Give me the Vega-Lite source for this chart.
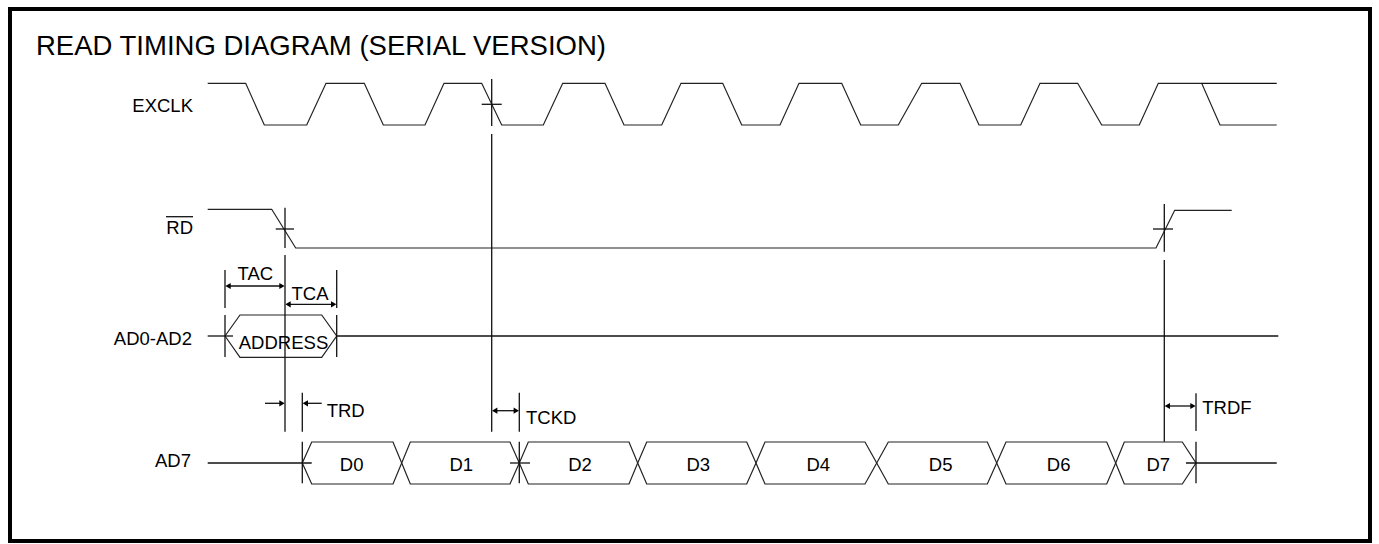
{
  "$schema": "https://vega.github.io/schema/vega-lite/v6.json",
  "width": 1379,
  "height": 544,
  "autosize": {"type": "none"},
  "padding": 0,
  "background": "white",
  "config": {"view": {"stroke": null}},
  "datasets": {
    "frame": [{"x": 10, "x2": 1370, "y": 9, "y2": 541}],
    "waves": [
      {"id": "clk", "o": 0, "x": 207.7, "y": 83.3},
      {"id": "clk", "o": 1, "x": 245.7, "y": 83.3},
      {"id": "clk", "o": 2, "x": 264.3, "y": 125},
      {"id": "clk", "o": 3, "x": 306.7, "y": 125},
      {"id": "clk", "o": 4, "x": 326, "y": 83.3},
      {"id": "clk", "o": 5, "x": 364.3, "y": 83.3},
      {"id": "clk", "o": 6, "x": 383.3, "y": 125},
      {"id": "clk", "o": 7, "x": 425, "y": 125},
      {"id": "clk", "o": 8, "x": 444, "y": 83.3},
      {"id": "clk", "o": 9, "x": 481.7, "y": 83.3},
      {"id": "clk", "o": 10, "x": 501.7, "y": 125},
      {"id": "clk", "o": 11, "x": 543.3, "y": 125},
      {"id": "clk", "o": 12, "x": 562.7, "y": 83.3},
      {"id": "clk", "o": 13, "x": 605, "y": 83.3},
      {"id": "clk", "o": 14, "x": 624, "y": 125},
      {"id": "clk", "o": 15, "x": 661.7, "y": 125},
      {"id": "clk", "o": 16, "x": 681, "y": 83.3},
      {"id": "clk", "o": 17, "x": 722.7, "y": 83.3},
      {"id": "clk", "o": 18, "x": 741.7, "y": 125},
      {"id": "clk", "o": 19, "x": 780, "y": 125},
      {"id": "clk", "o": 20, "x": 799, "y": 83.3},
      {"id": "clk", "o": 21, "x": 841.7, "y": 83.3},
      {"id": "clk", "o": 22, "x": 860.7, "y": 125},
      {"id": "clk", "o": 23, "x": 898.3, "y": 125},
      {"id": "clk", "o": 24, "x": 921.7, "y": 83.3},
      {"id": "clk", "o": 25, "x": 960, "y": 83.3},
      {"id": "clk", "o": 26, "x": 979, "y": 125},
      {"id": "clk", "o": 27, "x": 1020.7, "y": 125},
      {"id": "clk", "o": 28, "x": 1040, "y": 83.3},
      {"id": "clk", "o": 29, "x": 1077.7, "y": 83.3},
      {"id": "clk", "o": 30, "x": 1101.7, "y": 125},
      {"id": "clk", "o": 31, "x": 1139.3, "y": 125},
      {"id": "clk", "o": 32, "x": 1158.3, "y": 83.3},
      {"id": "clk", "o": 33, "x": 1201.7, "y": 83.3},
      {"id": "clk", "o": 34, "x": 1220, "y": 125},
      {"id": "clk", "o": 35, "x": 1276.7, "y": 125},
      {"id": "rd", "o": 0, "x": 207.7, "y": 209.3},
      {"id": "rd", "o": 1, "x": 271.7, "y": 209.3},
      {"id": "rd", "o": 2, "x": 295.7, "y": 248},
      {"id": "rd", "o": 3, "x": 1156, "y": 248},
      {"id": "rd", "o": 4, "x": 1174.7, "y": 210.3},
      {"id": "rd", "o": 5, "x": 1231.7, "y": 210.3},
      {"id": "addr", "o": 0, "x": 225, "y": 336},
      {"id": "addr", "o": 1, "x": 240, "y": 315},
      {"id": "addr", "o": 2, "x": 321.7, "y": 315},
      {"id": "addr", "o": 3, "x": 336.7, "y": 336},
      {"id": "addr", "o": 4, "x": 321.7, "y": 357.3},
      {"id": "addr", "o": 5, "x": 240, "y": 357.3},
      {"id": "addr", "o": 6, "x": 225, "y": 336},
      {"id": "d0", "o": 0, "x": 302.3, "y": 463},
      {"id": "d0", "o": 1, "x": 311.7, "y": 442},
      {"id": "d0", "o": 2, "x": 393, "y": 442},
      {"id": "d0", "o": 3, "x": 401.7, "y": 463},
      {"id": "d0", "o": 4, "x": 393, "y": 484},
      {"id": "d0", "o": 5, "x": 311.7, "y": 484},
      {"id": "d0", "o": 6, "x": 302.3, "y": 463},
      {"id": "d1", "o": 0, "x": 401.7, "y": 463},
      {"id": "d1", "o": 1, "x": 410.3, "y": 442},
      {"id": "d1", "o": 2, "x": 510, "y": 442},
      {"id": "d1", "o": 3, "x": 519.3, "y": 463},
      {"id": "d1", "o": 4, "x": 510, "y": 484},
      {"id": "d1", "o": 5, "x": 410.3, "y": 484},
      {"id": "d1", "o": 6, "x": 401.7, "y": 463},
      {"id": "d2", "o": 0, "x": 519.3, "y": 463},
      {"id": "d2", "o": 1, "x": 528.3, "y": 442},
      {"id": "d2", "o": 2, "x": 629, "y": 442},
      {"id": "d2", "o": 3, "x": 637.7, "y": 463},
      {"id": "d2", "o": 4, "x": 629, "y": 484},
      {"id": "d2", "o": 5, "x": 528.3, "y": 484},
      {"id": "d2", "o": 6, "x": 519.3, "y": 463},
      {"id": "d3", "o": 0, "x": 637.7, "y": 463},
      {"id": "d3", "o": 1, "x": 646.7, "y": 442},
      {"id": "d3", "o": 2, "x": 746.7, "y": 442},
      {"id": "d3", "o": 3, "x": 756, "y": 463},
      {"id": "d3", "o": 4, "x": 746.7, "y": 484},
      {"id": "d3", "o": 5, "x": 646.7, "y": 484},
      {"id": "d3", "o": 6, "x": 637.7, "y": 463},
      {"id": "d4", "o": 0, "x": 756, "y": 463},
      {"id": "d4", "o": 1, "x": 765, "y": 442},
      {"id": "d4", "o": 2, "x": 865, "y": 442},
      {"id": "d4", "o": 3, "x": 876.7, "y": 463},
      {"id": "d4", "o": 4, "x": 865, "y": 484},
      {"id": "d4", "o": 5, "x": 765, "y": 484},
      {"id": "d4", "o": 6, "x": 756, "y": 463},
      {"id": "d5", "o": 0, "x": 876.7, "y": 463},
      {"id": "d5", "o": 1, "x": 888.3, "y": 442},
      {"id": "d5", "o": 2, "x": 987.3, "y": 442},
      {"id": "d5", "o": 3, "x": 996.7, "y": 463},
      {"id": "d5", "o": 4, "x": 987.3, "y": 484},
      {"id": "d5", "o": 5, "x": 888.3, "y": 484},
      {"id": "d5", "o": 6, "x": 876.7, "y": 463},
      {"id": "d6", "o": 0, "x": 996.7, "y": 463},
      {"id": "d6", "o": 1, "x": 1006, "y": 442},
      {"id": "d6", "o": 2, "x": 1106.7, "y": 442},
      {"id": "d6", "o": 3, "x": 1115.7, "y": 463},
      {"id": "d6", "o": 4, "x": 1106.7, "y": 484},
      {"id": "d6", "o": 5, "x": 1006, "y": 484},
      {"id": "d6", "o": 6, "x": 996.7, "y": 463},
      {"id": "d7", "o": 0, "x": 1115.7, "y": 463},
      {"id": "d7", "o": 1, "x": 1124.3, "y": 442},
      {"id": "d7", "o": 2, "x": 1182.3, "y": 442},
      {"id": "d7", "o": 3, "x": 1196, "y": 463},
      {"id": "d7", "o": 4, "x": 1182.3, "y": 484},
      {"id": "d7", "o": 5, "x": 1124.3, "y": 484},
      {"id": "d7", "o": 6, "x": 1115.7, "y": 463}
    ],
    "segs": [
      {"x": 1201.7, "y": 83.3, "x2": 1276.7, "y2": 83.3},
      {"x": 491.7, "y": 79, "x2": 491.7, "y2": 126},
      {"x": 491.7, "y": 134, "x2": 491.7, "y2": 431.7},
      {"x": 481.7, "y": 104.3, "x2": 501.7, "y2": 104.3},
      {"x": 285, "y": 207.7, "x2": 285, "y2": 248},
      {"x": 285, "y": 255, "x2": 285, "y2": 431.7},
      {"x": 275.7, "y": 229, "x2": 294, "y2": 229},
      {"x": 1164.3, "y": 204, "x2": 1164.3, "y2": 251.7},
      {"x": 1164.3, "y": 260, "x2": 1164.3, "y2": 441.7},
      {"x": 1153, "y": 229, "x2": 1173, "y2": 229},
      {"x": 225, "y": 270, "x2": 225, "y2": 308},
      {"x": 225, "y": 315, "x2": 225, "y2": 357},
      {"x": 336.7, "y": 270, "x2": 336.7, "y2": 308},
      {"x": 336.7, "y": 315, "x2": 336.7, "y2": 357},
      {"x": 302.3, "y": 392.7, "x2": 302.3, "y2": 431.7},
      {"x": 302.3, "y": 441.7, "x2": 302.3, "y2": 483.3},
      {"x": 519.3, "y": 392.7, "x2": 519.3, "y2": 431.7},
      {"x": 519.3, "y": 441.7, "x2": 519.3, "y2": 483.3},
      {"x": 1196, "y": 393.3, "x2": 1196, "y2": 431},
      {"x": 1196, "y": 441.7, "x2": 1196, "y2": 483.3},
      {"x": 207.7, "y": 336, "x2": 233, "y2": 336},
      {"x": 336.7, "y": 336, "x2": 1278.3, "y2": 336},
      {"x": 207.7, "y": 463, "x2": 311.7, "y2": 463},
      {"x": 510, "y": 463, "x2": 530, "y2": 463},
      {"x": 1186, "y": 463, "x2": 1276.7, "y2": 463},
      {"x": 228, "y": 286, "x2": 282, "y2": 286},
      {"x": 288, "y": 304.3, "x2": 333.7, "y2": 304.3},
      {"x": 265, "y": 403.3, "x2": 282, "y2": 403.3},
      {"x": 305.3, "y": 403.3, "x2": 321.7, "y2": 403.3},
      {"x": 494.7, "y": 410.7, "x2": 516.3, "y2": 410.7},
      {"x": 1167.3, "y": 406, "x2": 1193, "y2": 406},
      {"x": 166, "y": 216.7, "x2": 193, "y2": 216.7}
    ],
    "heads": [
      {"x": 228, "y": 286, "d": "left"},
      {"x": 282, "y": 286, "d": "right"},
      {"x": 288, "y": 304.3, "d": "left"},
      {"x": 333.7, "y": 304.3, "d": "right"},
      {"x": 282, "y": 403.3, "d": "right"},
      {"x": 305.3, "y": 403.3, "d": "left"},
      {"x": 494.7, "y": 410.7, "d": "left"},
      {"x": 516.3, "y": 410.7, "d": "right"},
      {"x": 1167.3, "y": 406, "d": "left"},
      {"x": 1193, "y": 406, "d": "right"}
    ],
    "title": [{"x": 36, "y": 55, "t": "READ TIMING DIAGRAM (SERIAL VERSION)"}],
    "rlabels": [
      {"x": 193, "y": 111.7, "t": "EXCLK"},
      {"x": 193, "y": 234, "t": "RD"},
      {"x": 192, "y": 345, "t": "AD0-AD2"},
      {"x": 191, "y": 467.3, "t": "AD7"}
    ],
    "clabels": [
      {"x": 255.3, "y": 280, "t": "TAC"},
      {"x": 310, "y": 300, "t": "TCA"},
      {"x": 283.5, "y": 348.5, "t": "ADDRESS"},
      {"x": 351.7, "y": 470.7, "t": "D0"},
      {"x": 461.3, "y": 470.7, "t": "D1"},
      {"x": 580, "y": 470.7, "t": "D2"},
      {"x": 698.3, "y": 470.7, "t": "D3"},
      {"x": 818.3, "y": 470.7, "t": "D4"},
      {"x": 940.7, "y": 470.7, "t": "D5"},
      {"x": 1058.7, "y": 470.7, "t": "D6"},
      {"x": 1158.3, "y": 470.7, "t": "D7"}
    ],
    "llabels": [
      {"x": 326.7, "y": 416.7, "t": "TRD"},
      {"x": 526, "y": 424, "t": "TCKD"},
      {"x": 1202.3, "y": 414, "t": "TRDF"}
    ]
  },
  "layer": [
    {
      "data": {"name": "frame"},
      "mark": {"type": "rect", "filled": false, "stroke": "black", "strokeWidth": 4},
      "encoding": {
        "x": {"field": "x", "type": "quantitative", "scale": {"domain": [0, 1379], "nice": false, "zero": false}, "axis": null},
        "x2": {"field": "x2"},
        "y": {"field": "y", "type": "quantitative", "scale": {"domain": [0, 544], "reverse": true, "nice": false, "zero": false}, "axis": null},
        "y2": {"field": "y2"}
      }
    },
    {
      "data": {"name": "waves"},
      "mark": {"type": "line", "color": "#222222", "strokeWidth": 1.2},
      "encoding": {
        "x": {"field": "x", "type": "quantitative", "scale": {"domain": [0, 1379], "nice": false, "zero": false}, "axis": null},
        "y": {"field": "y", "type": "quantitative", "scale": {"domain": [0, 544], "reverse": true, "nice": false, "zero": false}, "axis": null},
        "detail": {"field": "id", "type": "nominal"},
        "order": {"field": "o", "type": "quantitative"}
      }
    },
    {
      "data": {"name": "segs"},
      "mark": {"type": "rule", "color": "#111111", "strokeWidth": 1.3},
      "encoding": {
        "x": {"field": "x", "type": "quantitative", "scale": {"domain": [0, 1379], "nice": false, "zero": false}, "axis": null},
        "x2": {"field": "x2"},
        "y": {"field": "y", "type": "quantitative", "scale": {"domain": [0, 544], "reverse": true, "nice": false, "zero": false}, "axis": null},
        "y2": {"field": "y2"}
      }
    },
    {
      "data": {"name": "heads"},
      "mark": {"type": "point", "filled": true, "color": "black", "opacity": 1, "size": 38},
      "encoding": {
        "x": {"field": "x", "type": "quantitative", "scale": {"domain": [0, 1379], "nice": false, "zero": false}, "axis": null},
        "y": {"field": "y", "type": "quantitative", "scale": {"domain": [0, 544], "reverse": true, "nice": false, "zero": false}, "axis": null},
        "shape": {"field": "d", "type": "nominal", "scale": {"domain": ["left", "right"], "range": ["triangle-left", "triangle-right"]}, "legend": null}
      }
    },
    {
      "data": {"name": "title"},
      "mark": {"type": "text", "align": "left", "baseline": "alphabetic", "font": "Liberation Sans", "fontSize": 27.5, "color": "black"},
      "encoding": {
        "x": {"field": "x", "type": "quantitative", "scale": {"domain": [0, 1379], "nice": false, "zero": false}, "axis": null},
        "y": {"field": "y", "type": "quantitative", "scale": {"domain": [0, 544], "reverse": true, "nice": false, "zero": false}, "axis": null},
        "text": {"field": "t"}
      }
    },
    {
      "data": {"name": "rlabels"},
      "mark": {"type": "text", "align": "right", "baseline": "alphabetic", "font": "Liberation Sans", "fontSize": 18.5, "color": "black"},
      "encoding": {
        "x": {"field": "x", "type": "quantitative", "scale": {"domain": [0, 1379], "nice": false, "zero": false}, "axis": null},
        "y": {"field": "y", "type": "quantitative", "scale": {"domain": [0, 544], "reverse": true, "nice": false, "zero": false}, "axis": null},
        "text": {"field": "t"}
      }
    },
    {
      "data": {"name": "clabels"},
      "mark": {"type": "text", "align": "center", "baseline": "alphabetic", "font": "Liberation Sans", "fontSize": 18.5, "color": "black"},
      "encoding": {
        "x": {"field": "x", "type": "quantitative", "scale": {"domain": [0, 1379], "nice": false, "zero": false}, "axis": null},
        "y": {"field": "y", "type": "quantitative", "scale": {"domain": [0, 544], "reverse": true, "nice": false, "zero": false}, "axis": null},
        "text": {"field": "t"}
      }
    },
    {
      "data": {"name": "llabels"},
      "mark": {"type": "text", "align": "left", "baseline": "alphabetic", "font": "Liberation Sans", "fontSize": 18.5, "color": "black"},
      "encoding": {
        "x": {"field": "x", "type": "quantitative", "scale": {"domain": [0, 1379], "nice": false, "zero": false}, "axis": null},
        "y": {"field": "y", "type": "quantitative", "scale": {"domain": [0, 544], "reverse": true, "nice": false, "zero": false}, "axis": null},
        "text": {"field": "t"}
      }
    }
  ]
}
